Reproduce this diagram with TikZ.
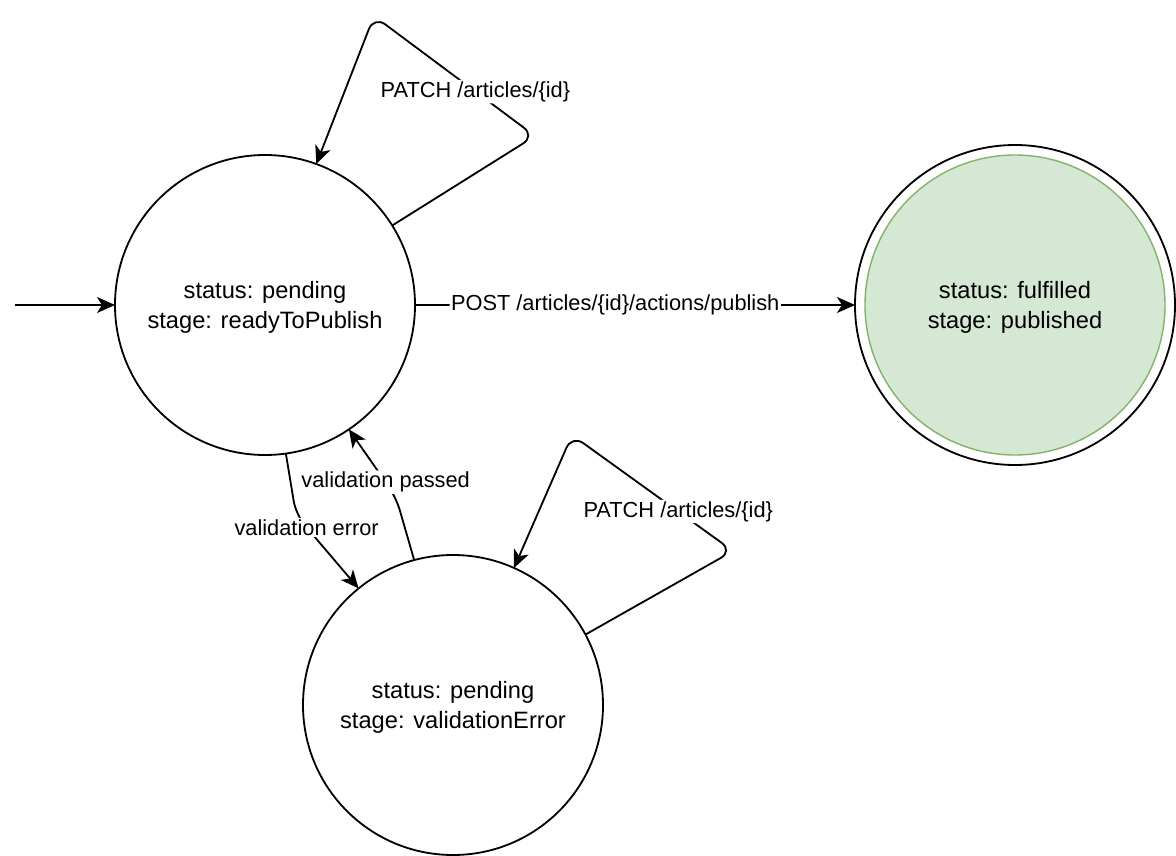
\documentclass[tikz,border=0pt]{standalone}
\usepackage{fontspec}
\setmainfont{Liberation Sans}
\usetikzlibrary{arrows.meta}
\definecolor{pubfill}{HTML}{D5E8D4}
\definecolor{pubdraw}{HTML}{82B366}
\tikzset{
  state/.style={circle, draw=black, line width=1.82pt, fill=white, minimum size=300pt,
    inner sep=0pt, outer sep=0pt, align=center, text=black, text height=51.6pt, text depth=5pt,
    font=\fontsize{23.65pt}{30pt}\selectfont},
  edge/.style={line width=1.82pt, -{Stealth[length=18pt,width=16pt,inset=5pt]}, rounded corners=14pt},
  lbl/.style={fill=white, inner sep=1.5pt, text=black, font=\fontsize{21.8pt}{26pt}\selectfont}
}
\begin{document}
\begin{tikzpicture}[x=1pt,y=-1pt]
\useasboundingbox[fill=white] (0,0) rectangle (1176,856);

\node[state] (A) at (265,305) {status: pending\\stage: readyToPublish};
\node[state] (B) at (453,705) {status: pending\\stage: validationError};
\node[state, minimum size=320pt] (C) at (1015,305) {};
\node[state, minimum size=300pt, fill=pubfill, draw=pubdraw, line width=1.4pt] (Ci) at (C.center) {status: fulfilled\\stage: published};

\coordinate (start) at (15,305);
\draw[edge] (start) -- (A.west);

\draw[edge] (A.east) -- node[lbl, pos=0.455] {POST /articles/\{id\}/actions/publish} (C.west);

\draw[edge] (A.32.5) -- (535,136) -- node[lbl, pos=0.37] {PATCH /articles/\{id\}} (374,16) -- (A.70);

\draw[edge] (B.28.8) -- (733,551) -- node[lbl, pos=0.34] {PATCH /articles/\{id\}} (572,435) -- (B.66.7);

\draw[edge] (A.278.3) -- (296,515) -- node[lbl, pos=0.17] {validation error} (B.129.4);

\draw[edge] (B.105.3) -- (396,497) -- node[lbl, pos=0.22] {validation passed} (A.304.4);
\end{tikzpicture}
\end{document}
